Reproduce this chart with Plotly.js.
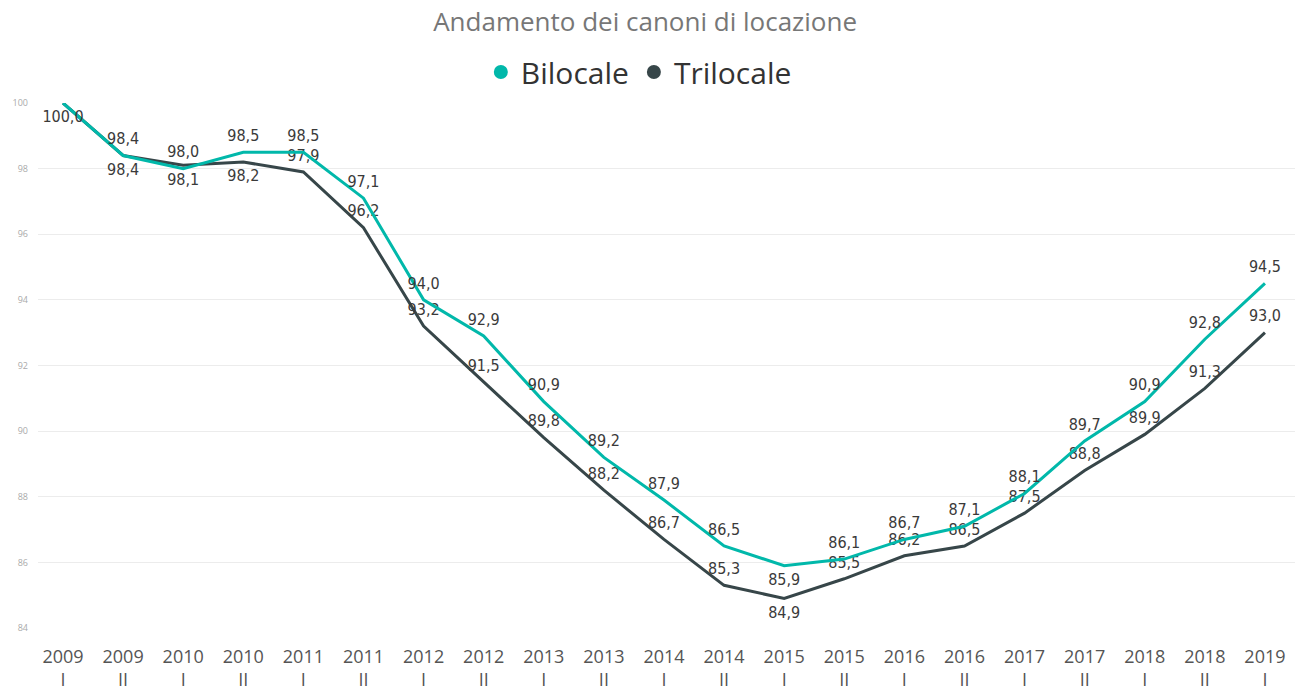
<!DOCTYPE html>
<html>
<head>
<meta charset="utf-8">
<script src="https://cdn.plot.ly/plotly-3.0.1.min.js"></script>
<style>html,body{margin:0;padding:0;background:#fff;}#chart{width:1298px;height:688px;}</style>
</head>
<body>
<div id="chart"></div>
<script>
var years = ['2009','2009','2010','2010','2011','2011','2012','2012','2013','2013','2014','2014','2015','2015','2016','2016','2017','2017','2018','2018','2019'];
var halves = ['I','II','I','II','I','II','I','II','I','II','I','II','I','II','I','II','I','II','I','II','I'];
var bilocale = [100.0, 98.4, 98.0, 98.5, 98.5, 97.1, 94.0, 92.9, 90.9, 89.2, 87.9, 86.5, 85.9, 86.1, 86.7, 87.1, 88.1, 89.7, 90.9, 92.8, 94.5];
var trilocale = [100.0, 98.4, 98.1, 98.2, 97.9, 96.2, 93.2, 91.5, 89.8, 88.2, 86.7, 85.3, 84.9, 85.5, 86.2, 86.5, 87.5, 88.8, 89.9, 91.3, 93.0];
var seriesNames = ['Bilocale', 'Trilocale'];
var yTicks = [84, 86, 88, 90, 92, 94, 96, 98, 100];

var cats = years.map(function(y, i){ return y + ' ' + halves[i]; });
var tickText = years.map(function(y, i){ return y + '<br>' + halves[i]; });

var colB = '#01B8AA', colT = '#374649';

// label placement (style)
var posB = bilocale.map(function(v, i){ return (i === 0 || i === 12) ? 'bottom center' : 'top center'; });
var posT = trilocale.map(function(v, i){ return (i >= 1 && i <= 3) || i === 12 ? 'bottom center' : 'top center'; });
var tmplT = trilocale.map(function(v, i){ return i === 0 ? '' : '%{y:.1f}'; });

var labelFont = {family: 'DejaVu Sans Condensed, Liberation Sans Narrow, sans-serif', size: 16, color: '#3a3a3a'};

var traces = [
  {x: cats, y: trilocale, name: seriesNames[1], type: 'scatter', mode: 'lines+markers+text',
   line: {color: colT, width: 3}, marker: {size: 10, opacity: 0, color: colT},
   texttemplate: tmplT, textposition: posT, textfont: labelFont, showlegend: false, cliponaxis: false, hoverinfo: 'x+y'},
  {x: cats, y: bilocale, name: seriesNames[0], type: 'scatter', mode: 'lines+markers+text',
   line: {color: colB, width: 3}, marker: {size: 10, opacity: 0, color: colB},
   texttemplate: '%{y:.1f}', textposition: posB, textfont: labelFont, showlegend: false, cliponaxis: false, hoverinfo: 'x+y'},
  {x: [null], y: [null], name: seriesNames[0], type: 'scatter', mode: 'markers',
   marker: {size: 14, color: colB, symbol: 'circle'}, showlegend: true},
  {x: [null], y: [null], name: seriesNames[1], type: 'scatter', mode: 'markers',
   marker: {size: 14, color: colT, symbol: 'circle'}, showlegend: true}
];

var layout = {
  width: 1298, height: 688,
  separators: ',.',
  paper_bgcolor: '#fff', plot_bgcolor: '#fff',
  margin: {l: 38, r: 3, t: 103, b: 60},
  title: {text: 'Andamento dei canoni di locazione', x: 0.497, xanchor: 'center', y: 0.968, yanchor: 'middle',
          font: {family: 'Open Sans, Noto Sans, sans-serif', size: 26, color: '#777'}},
  showlegend: true,
  legend: {orientation: 'h', x: 0.478, xanchor: 'center', y: 1.059, yanchor: 'middle',
           font: {family: 'Open Sans, Noto Sans, sans-serif', size: 30, color: '#333'},
           itemwidth: 30, tracegroupgap: 0, traceorder: 'normal'},
  xaxis: {type: 'category', tickvals: cats, ticktext: tickText, range: [-0.416, 20.5],
          showgrid: false, zeroline: false, showline: false, ticks: '', ticklabelstandoff: 16,
          tickfont: {family: 'Open Sans, Noto Sans, sans-serif', size: 18, color: '#555'}},
  yaxis: {range: [84, 100], tickvals: yTicks, ticktext: yTicks.map(String),
          showgrid: true, gridcolor: '#ececec', gridwidth: 1, zeroline: false, showline: false, ticks: '',
          tickfont: {family: 'Open Sans, Noto Sans, sans-serif', size: 9, color: '#aaa'}, ticklabelstandoff: 9},
  hovermode: 'closest'
};

Plotly.newPlot('chart', traces, layout, {displayModeBar: false, staticPlot: true});
</script>
</body>
</html>
